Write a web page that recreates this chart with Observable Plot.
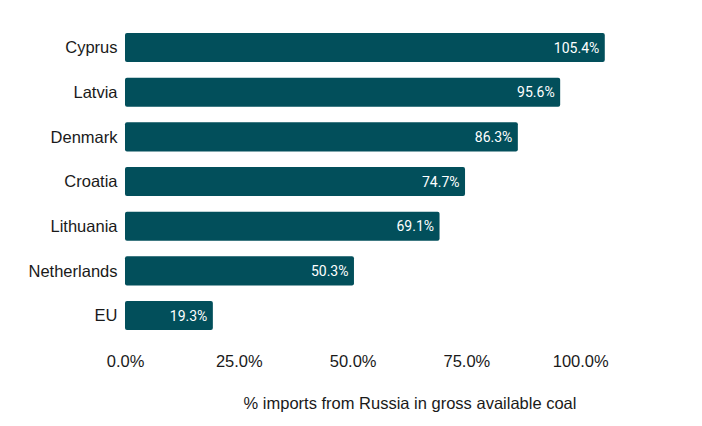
<!DOCTYPE html>
<html>
<head>
<meta charset="utf-8">
<script src="https://cdn.jsdelivr.net/npm/d3@7"></script>
<script src="https://cdn.jsdelivr.net/npm/@observablehq/plot@0.6"></script>
<style>
  html, body { margin: 0; padding: 0; background: #fff; }
  #chart svg { display: block; }
</style>
</head>
<body>
<div id="chart"></div>
<script>
const countries = ["Cyprus", "Latvia", "Denmark", "Croatia", "Lithuania", "Netherlands", "EU"];
const values = [105.4, 95.6, 86.3, 74.7, 69.1, 50.3, 19.3];
const tickValues = [0, 25, 50, 75, 100];
const axisLabel = "% imports from Russia in gross available coal";

const data = countries.map((c, i) => ({country: c, value: values[i]}));
const fmt = d => d.toFixed(1) + "%";

const chart = Plot.plot({
  width: 702,
  height: 426,
  marginLeft: 125,
  marginRight: 8,
  marginTop: 17.4,
  marginBottom: 80.3,
  style: {fontFamily: "'Liberation Sans', Arial, sans-serif", fontSize: "16px", color: "#1a1a1a", background: "#fff"},
  x: {domain: [0, 125]},
  y: {domain: countries, padding: 0.35, round: false},
  marks: [
    Plot.barX(data, {x: "value", y: "country", fill: "#024f5b", rx: 2}),
    Plot.text(data, {x: "value", y: "country", text: d => fmt(d.value), dx: -6, textAnchor: "end",
      fill: "white", fontFamily: "Roboto", fontSize: 14}),
    Plot.axisY({tickSize: 0, tickPadding: 8, label: null, fontSize: 16.5, fontFamily: "'Liberation Sans', Arial, sans-serif"}),
    Plot.axisX({ticks: tickValues, tickFormat: fmt, tickSize: 0, tickPadding: 9, fontSize: 16.5,
      fontFamily: "'Liberation Sans', Arial, sans-serif",
      label: axisLabel, labelAnchor: "center", labelArrow: "none", labelOffset: 63})
  ]
});
document.getElementById("chart").appendChild(chart);
</script>
</body>
</html>
